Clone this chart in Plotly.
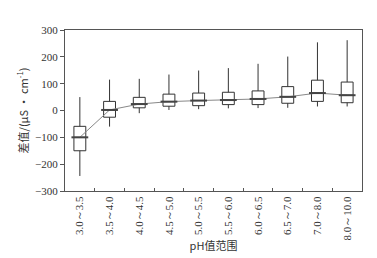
import plotly.graph_objects as go

categories = ["3.0～3.5", "3.5～4.0", "4.0～4.5", "4.5～5.0", "5.0～5.5",
              "5.5～6.0", "6.0～6.5", "6.5～7.0", "7.0～8.0", "8.0～10.0"]
lower = [-244, -60, -10, 2, 5, 8, 9, 10, 15, 15]
q1 = [-150, -25, 10, 16, 18, 22, 22, 27, 34, 29]
median = [-100, 2, 24, 33, 37, 39, 43, 51, 65, 57]
q3 = [-59, 34, 49, 61, 65, 68, 73, 89, 113, 106]
upper = [50, 115, 118, 134, 149, 158, 174, 201, 254, 262]

serif = "Liberation Serif, Times New Roman, serif"

fig = go.Figure()
fig.add_trace(go.Box(
    x=categories, q1=q1, median=median, q3=q3,
    lowerfence=lower, upperfence=upper,
    fillcolor="white", line=dict(color="#333333", width=1),
    whiskerwidth=0, width=0.4, boxpoints=False, showlegend=False,
    hoverinfo="skip"))
fig.add_trace(go.Scatter(
    x=categories, y=median, mode="lines",
    line=dict(color="#888888", width=1), showlegend=False))
fig.add_trace(go.Scatter(
    x=categories, y=median, mode="markers",
    marker=dict(symbol="line-ew", size=12, line=dict(color="#444444", width=2)),
    showlegend=False))

fig.update_layout(
    width=377, height=258,
    margin=dict(l=57, r=23, t=22, b=75),
    paper_bgcolor="white", plot_bgcolor="white",
    font=dict(family=serif, size=11, color="#333333"),
    xaxis=dict(
        type="category", tickangle=-90, tickson="boundaries",
        ticks="inside", ticklen=3, tickcolor="#555555",
        showline=True, linecolor="#555555", linewidth=1, mirror=True,
        showgrid=False, range=[-0.5, 9.5],
        tickfont=dict(family=serif, size=11),
        title=dict(text="pH值范围", font=dict(family="Noto Sans CJK SC", size=11), standoff=2)),
    yaxis=dict(
        range=[-300, 300], dtick=100, ticks="outside", ticklen=4,
        tickcolor="#555555",
        showline=True, linecolor="#555555", linewidth=1, mirror=True,
        showgrid=False, zeroline=False,
        tickfont=dict(family=serif, size=11),
        title=dict(text="差值/(μS · cm<sup>-1</sup>)", font=dict(family="Noto Sans CJK SC", size=11), standoff=4)),
)

fig.write_html("out.html")
